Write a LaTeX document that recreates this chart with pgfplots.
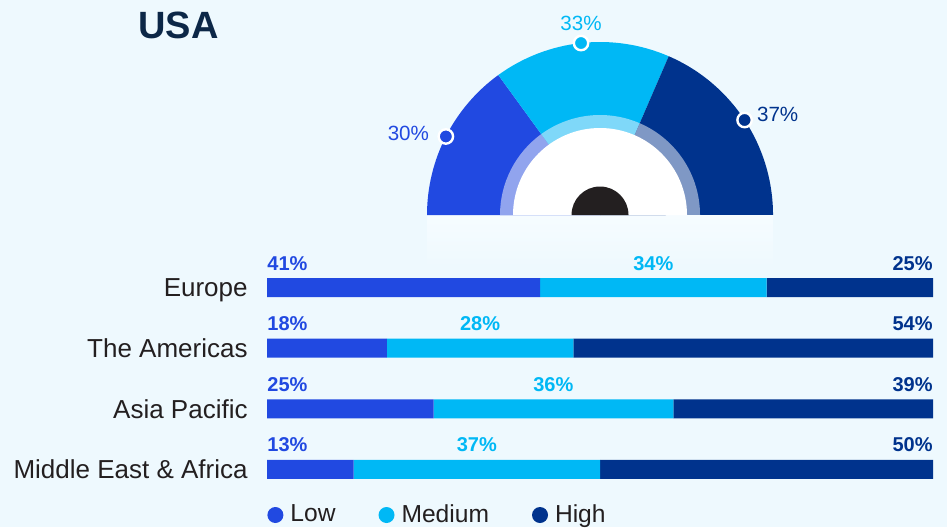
\documentclass[border=0pt]{standalone}
\usepackage{pgfplots}
\pgfplotsset{compat=1.18}
\usepackage{pgfplotstable}
\usepackage{fontspec}
\setmainfont{Liberation Sans}

\definecolor{bgc}{HTML}{EEF9FE}
\definecolor{panelc}{HTML}{F6FCFF}
\definecolor{lowc}{HTML}{2149E1}
\definecolor{medc}{HTML}{00B8F5}
\definecolor{highc}{HTML}{00338D}
\definecolor{lowr}{HTML}{91A4EE}
\definecolor{medr}{HTML}{7FD8F9}
\definecolor{highr}{HTML}{7F98C5}
\definecolor{knobc}{HTML}{231F20}
\definecolor{titlec}{HTML}{0C2747}
\definecolor{textc}{HTML}{231F20}

\pgfplotsset{/pgf/number format/assume math mode=true}

% gauge: share of each level, start = sum of the levels before it
\pgfplotstableread{
level value start
Low 30 0
Medium 33 30
High 37 63
}\gaugedata

% regions, top to bottom: Europe, The Americas, Asia Pacific, Middle East & Africa
\pgfplotstableread{
id low med high
3 41 34 25
2 18 28 54
1 25 36 39
0 13 37 50
}\bardata

% one slice of the half donut, from row #1 of \gaugedata
\newcommand\gaugewedge[3]{%
  \pgfplotstablegetelem{#1}{start}\of\gaugedata\let\gs\pgfplotsretval
  \pgfplotstablegetelem{#1}{value}\of\gaugedata\let\gv\pgfplotsretval
  \pgfmathsetmacro\ga{180-1.8*\gs}%
  \pgfmathsetmacro\gb{180-1.8*(\gs+\gv)}%
  \edef\tmp{\noexpand\fill[#2] (axis cs:0,0) -- (axis cs:{#3*cos(\ga)},{#3*sin(\ga)})
    arc[start angle=\ga, end angle=\gb, radius=#3pt] -- cycle;}\tmp}

\tikzset{lbl/.style={font=\fontsize{10}{12}\selectfont\bfseries, inner sep=0pt, text=#1}}

\pgfplotsset{
  gmark/.style 2 args={only marks, mark=*, mark size=3.6pt,
    mark options={fill=#1, draw=white, line width=1.2pt},
    restrict expr to domain={\coordindex}{#2:#2},
    point meta=\thisrow{value},
    nodes near coords={\pgfmathprintnumber{\pgfplotspointmeta}\%},
    every node near coord/.append style={text=#1, font=\fontsize{10.3}{12}\selectfont}},
  dot legend/.style={legend image code/.code={\fill[##1] (4pt,0pt) circle (4pt); \path (9.5pt,0pt);}},
}

\begin{document}
\begin{tikzpicture}
\fill[bgc] (0,0) rectangle (473.5pt,263.5pt);
\shade[top color=panelc, bottom color=bgc] (213.5pt,130pt) rectangle (386.5pt,156pt);
\node[anchor=base west, inner sep=0pt, text=titlec,
  font=\fontsize{19}{22}\selectfont\bfseries] at (69pt,244.5pt) {USA};

% half donut gauge
\begin{axis}[scale only axis, width=173pt, height=86.5pt,
  at={(213.5pt,156pt)}, anchor=south west,
  xmin=-86.5, xmax=86.5, ymin=0, ymax=86.5, hide axis, clip=false]
  \gaugewedge{0}{lowc}{86.5}
  \gaugewedge{1}{medc}{86.5}
  \gaugewedge{2}{highc}{86.5}
  \gaugewedge{0}{lowr}{50}
  \gaugewedge{1}{medr}{50}
  \gaugewedge{2}{highr}{50}
  \fill[white] (axis cs:-43.5,0) arc[start angle=180, end angle=0, radius=43.5pt] -- cycle;
  \fill[knobc] (axis cs:-14.25,0) arc[start angle=180, end angle=0, radius=14.25pt] -- cycle;
  \addplot[gmark={lowc}{0}, every node near coord/.append style={anchor=east, xshift=-4.5pt, yshift=1.5pt}]
    table[x expr={86.5*cos(180-1.8*(\thisrow{start}+\thisrow{value}/2))},
          y expr={86.5*sin(180-1.8*(\thisrow{start}+\thisrow{value}/2))}] {\gaugedata};
  \addplot[gmark={medc}{1}, every node near coord/.append style={anchor=south, yshift=2.2pt}]
    table[x expr={86.5*cos(180-1.8*(\thisrow{start}+\thisrow{value}/2))},
          y expr={86.5*sin(180-1.8*(\thisrow{start}+\thisrow{value}/2))}] {\gaugedata};
  \addplot[gmark={highc}{2}, every node near coord/.append style={anchor=west, xshift=2.3pt, yshift=3pt}]
    table[x expr={86.5*cos(180-1.8*(\thisrow{start}+\thisrow{value}/2))},
          y expr={86.5*sin(180-1.8*(\thisrow{start}+\thisrow{value}/2))}] {\gaugedata};
\end{axis}

% stacked bars by region
\begin{axis}[scale only axis, width=333pt, height=121.3pt,
  at={(133.5pt,13.6pt)}, anchor=south west,
  xbar stacked, bar width=9.5pt,
  xmin=0, xmax=100, ymin=-0.5, ymax=3.5,
  axis line style={draw=none}, xtick=\empty,
  ytick={0,1,2,3},
  yticklabels={Middle East \& Africa, Asia Pacific, The Americas, Europe},
  major tick length=0pt,
  y tick label style={anchor=base east, inner sep=0pt, xshift=-9.5pt, yshift=-4.7pt,
    font=\fontsize{13}{15}\selectfont, text=textc},
  legend columns=-1,
  legend style={at={(axis description cs:0,0)}, anchor=west, yshift=-7.6pt,
    draw=none, fill=none, inner sep=0pt,
    font=\fontsize{12.3}{14}\selectfont, text=textc,
    /tikz/every even column/.append style={column sep=19.5pt}},
  ]
  \addplot[fill=lowc, draw=none, dot legend] table[x=low, y=id] {\bardata};
  \addplot[fill=medc, draw=none, dot legend] table[x=med, y=id] {\bardata};
  \addplot[fill=highc, draw=none, dot legend] table[x=high, y=id] {\bardata};
  \legend{Low, Medium, High}
\end{axis}

% percentage labels over the bars
\begin{axis}[scale only axis, width=333pt, height=121.3pt,
  at={(133.5pt,13.6pt)}, anchor=south west,
  xmin=0, xmax=100, ymin=-0.5, ymax=3.5, hide axis, clip=false,
  nodes near coords={\pgfmathprintnumber{\pgfplotspointmeta}\%}]
  \addplot[draw=none, mark=none, point meta=\thisrow{low},
    every node near coord/.append style={anchor=base west, yshift=8.75pt, lbl=lowc}]
    table[x expr=0, y=id] {\bardata};
  \addplot[draw=none, mark=none, point meta=\thisrow{med},
    every node near coord/.append style={anchor=base, yshift=8.75pt, lbl=medc}]
    table[x expr={\thisrow{low}+\thisrow{med}/2}, y=id] {\bardata};
  \addplot[draw=none, mark=none, point meta=\thisrow{high},
    every node near coord/.append style={anchor=base east, yshift=8.75pt, lbl=highc}]
    table[x expr=100, y=id] {\bardata};
\end{axis}
\end{tikzpicture}
\end{document}
